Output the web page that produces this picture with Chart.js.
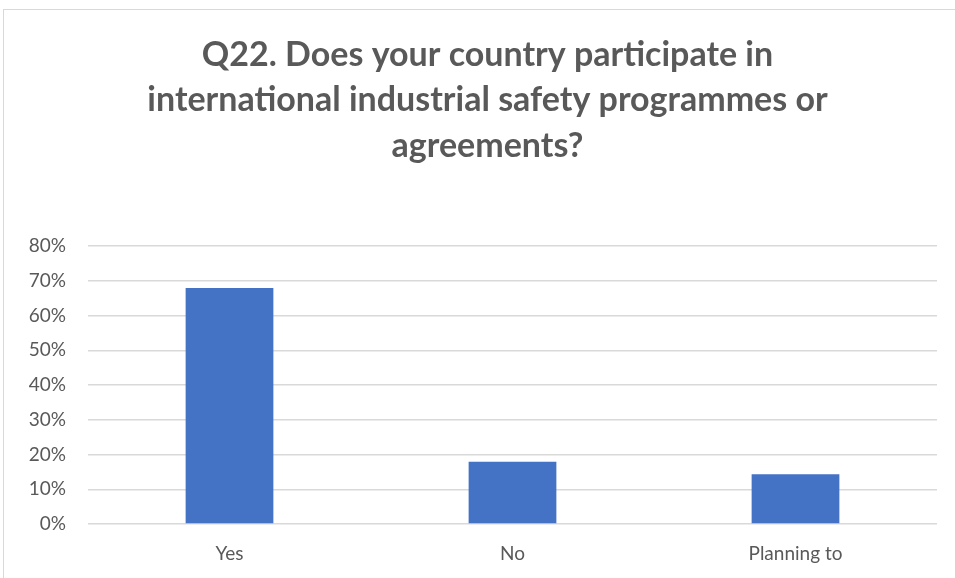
<!DOCTYPE html>
<html>
<head>
<meta charset="utf-8">
<script src="https://cdn.jsdelivr.net/npm/chart.js@4/dist/chart.umd.min.js"></script>
<style>
  html, body { margin: 0; padding: 0; background: #fff; }
  #wrap { position: relative; width: 955px; height: 578px; }
  #frame {
    position: absolute; left: 3px; top: 9px; right: -5px; bottom: -5px;
    border-left: 1.5px solid #d9d9d9; border-top: 1.5px solid #d9d9d9;
  }
  canvas { position: absolute; left: 0; top: 0; }
</style>
</head>
<body>
<div id="wrap">
  <div id="frame"></div>
  <canvas id="chart" width="955" height="578"></canvas>
</div>
<script>
// Survey answers, share of respondents in percent
const categories = ["Yes", "No", "Planning to"];
const shares = [67.9, 17.9, 14.3];
const titleLines = [
  "Q22. Does your country participate in",
  "international industrial safety programmes or",
  "agreements?"
];

const textGrey = "#595959";
const gridGrey = "#d9d9d9";
const fontFamily = "Lato, 'Open Sans', sans-serif";

// the title sits a little right of the plot centre
const titleShift = {
  id: "titleShift",
  afterLayout(chart) {
    const t = chart.titleBlock;
    if (t) { t.left += 19; t.right += 19; }
  },
};

const ctx = document.getElementById("chart").getContext("2d");
new Chart(ctx, {
  type: "bar",
  data: {
    labels: categories,
    datasets: [
      {
        data: shares,
        backgroundColor: "#4472c4",
        borderWidth: 0,
        categoryPercentage: 1,
        barPercentage: 0.31,
      },
    ],
  },
  options: {
    responsive: false,
    animation: false,
    layout: { padding: { left: 0, right: 18, top: 0, bottom: 0 } },
    plugins: {
      legend: { display: false },
      tooltip: { enabled: false },
      title: {
        display: true,
        text: titleLines,
        color: textGrey,
        font: { family: fontFamily, size: 34, weight: "bold", lineHeight: 1.324 },
        padding: { top: 33, bottom: 78 },
      },
    },
    scales: {
      x: {
        grid: { display: false },
        border: { display: false },
        ticks: { color: textGrey, font: { family: fontFamily, size: 19 }, padding: 10 },
        afterFit: (scale) => { scale.height = 54; },
      },
      y: {
        min: 0,
        max: 80,
        grid: { color: gridGrey, lineWidth: 1.5, drawTicks: false },
        border: { display: false },
        ticks: {
          stepSize: 10,
          color: textGrey,
          font: { family: fontFamily, size: 19 },
          padding: 22,
          callback: (v) => v + "%",
        },
        afterFit: (scale) => { scale.width = 88; },
      },
    },
  },
  plugins: [titleShift],
});
</script>
</body>
</html>
